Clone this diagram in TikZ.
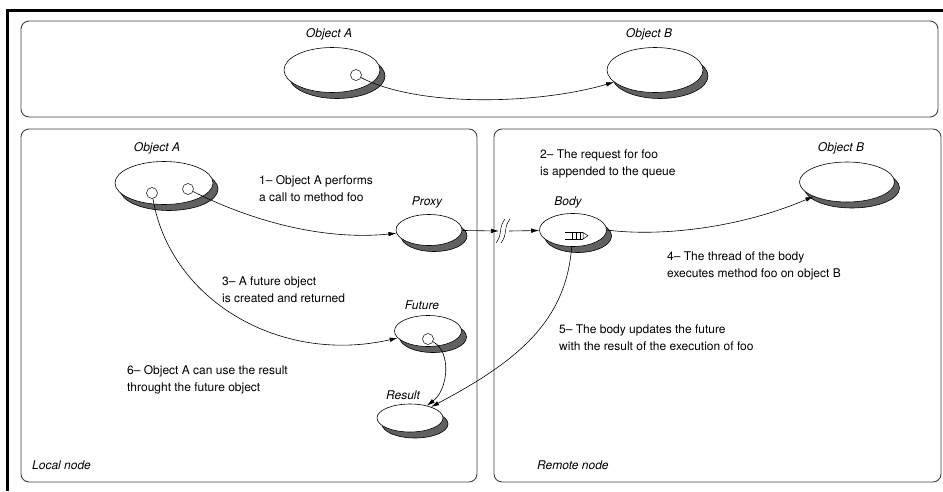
\documentclass[tikz,border=0pt]{standalone}
\usepackage{fontspec}
\setmainfont{TeX Gyre Heros}
\usetikzlibrary{shapes.geometric,shadows,arrows.meta}
\begin{document}
\begin{tikzpicture}[x=1pt,y=-1pt,
  panel/.style={draw=black!75,line width=0.9pt,rounded corners=8pt},
  obj/.style={ellipse,draw=black,line width=0.6pt,fill=white,inner sep=0pt,
     copy shadow={shadow xshift=5pt,shadow yshift=-6pt,fill=black!62,draw=black,line width=0.6pt}},
  hole/.style={circle,draw=black,line width=0.5pt,minimum size=11pt,inner sep=0pt},
  lbl/.style={font=\itshape\fontsize{12}{14}\selectfont,inner sep=0pt},
  txt/.style={font=\fontsize{12}{17}\selectfont,align=left,anchor=west,inner sep=0pt},
  conn/.style={line width=0.6pt,-{Latex[length=8pt,width=4.5pt]}},
]
\useasboundingbox (0,0) rectangle (943,491);
% outer black border
\draw[line width=3pt] (943,10.5) -- (7.5,10.5) -- (7.5,491);
% panels
\draw[panel] (21,21) rectangle (938,117);
\draw[panel] (21,129) rectangle (477,482);
\draw[panel] (494,129) rectangle (941,482);

% ---- top panel
\node[lbl] (lTopA) at (329,34) {Object A};
\node[lbl] (lTopB) at (649,34) {Object B};
\node[obj,minimum width=96pt,minimum height=45pt] (topA) at (332,70) {};
\node[obj,minimum width=96pt,minimum height=45pt] (topB) at (655,70) {};
\node[hole] (topAh) at (356,75) {};
\draw[conn] (topAh) .. controls (420,108) and (540,104) .. (topB);

% ---- local node
\node[lbl] (lLocA) at (157,148) {Object A};
\node[obj,minimum width=98pt,minimum height=43pt] (locA) at (164,183) {};
\node[hole] (locAh1) at (152,193) {};
\node[hole] (locAh2) at (188,189) {};

\node[lbl] (lProxy) at (427,202) {Proxy};
\node[obj,minimum width=66pt,minimum height=31pt] (proxy) at (429,230) {};

\node[lbl] (lFuture) at (422,305) {Future};
\node[obj,minimum width=67pt,minimum height=31pt] (future) at (428,331) {};
\node[hole] (futureh) at (428,339) {};

\node[lbl] (lResult) at (403,395) {Result};
\node[obj,minimum width=66pt,minimum height=28pt] (result) at (410,418) {};

\node[txt] (t1) at (259,188.5) {1– Object A performs\\a call to method foo};
\node[txt] (t3) at (222,290) {3– A future object\\is created and returned};
\node[txt] (t6) at (127,380) {6– Object A can use the result\\throught the future object};
\node[lbl,anchor=west] (local) at (32,465) {Local node};

% ---- remote node
\node[lbl] (lBody) at (568,202) {Body};
\node[obj,minimum width=67pt,minimum height=33pt] (body) at (573,230) {};
\draw[line width=0.5pt] (565,232.5) -- (583,232.5) (565,239) -- (583,239)
  (572,232.5) -- (572,239) (576,232.5) -- (576,239) (580,232.5) -- (580,239);
\draw[line width=0.5pt,fill=white] (583,232.5) -- (588,235.75) -- (583,239) -- cycle;

\node[lbl] (lRemB) at (841,148) {Object B};
\node[obj,minimum width=95pt,minimum height=40pt] (remB) at (847,182) {};

\node[txt] (t2) at (540,164) {2– The request for foo\\is appended to the queue};
\node[txt] (t4) at (667,266) {4– The thread of the body\\executes method foo on object B};
\node[txt] (t5) at (559,337.5) {5– The body updates the future\\with the result of the execution of foo};
\node[lbl,anchor=west] (remote) at (537,465) {Remote node};

% ---- break mark between proxy and body
\coordinate (w1) at (499,231);
\coordinate (w2) at (509,231);
\draw[line width=0.5pt] (505,219) .. controls (498,228) and (503,234) .. (496,243);
\draw[line width=0.5pt] (510,219) .. controls (503,228) and (508,234) .. (501,243);

% ---- connectors
\draw[conn] (locAh2) .. controls (260,225) and (330,240) .. (proxy);
\draw[conn] (proxy) -- (w1);
\draw[conn] (w2) -- (body);
\draw[conn] (body.east) .. controls (660,237) and (740,228) .. (remB);
\draw[conn] (locAh1) .. controls (170,300) and (280,365) .. (future);
\draw[conn] (body) .. controls (566,320) and (520,360) .. (result);
\draw[conn] (futureh) .. controls (452,352) and (448,390) .. (result);
\end{tikzpicture}
\end{document}
